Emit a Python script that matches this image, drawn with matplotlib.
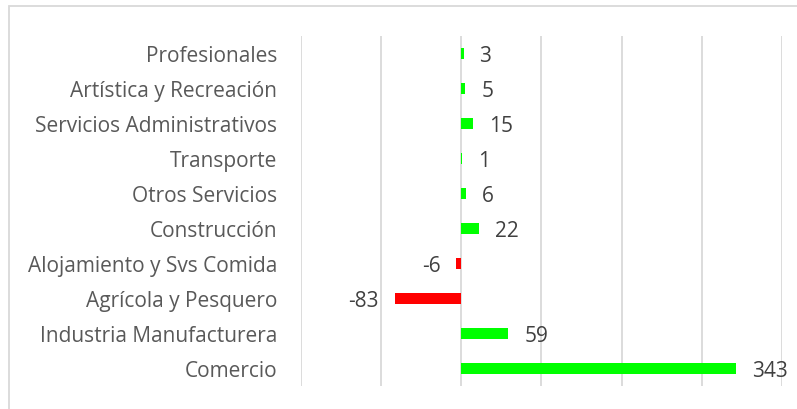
import matplotlib.pyplot as plt
from matplotlib.patches import Rectangle

# data, bottom to top as drawn
sectores = ["Comercio", "Industria Manufacturera", "Agrícola y Pesquero",
            "Alojamiento y Svs Comida", "Construcción", "Otros Servicios",
            "Transporte", "Servicios Administrativos", "Artística y Recreación",
            "Profesionales"]
valores = [343, 59, -83, -6, 22, 6, 1, 15, 5, 3]

verde = "#00FF00"
rojo = "#FF0000"
gris_txt = "#595959"
gris_num = "#404040"
gris_lin = "#D9D9D9"

plt.rcParams['font.family'] = ['Open Sans', 'DejaVu Sans']

fig = plt.figure(figsize=(7.97, 4.10), dpi=100)
ax = fig.add_axes([0.3773, 0.0568, 0.6039, 0.8537])

pos = list(range(len(sectores)))
colores = [verde if v >= 0 else rojo for v in valores]
ax.barh(pos, valores, height=0.31, color=colores, zorder=3)

for p, v in zip(pos, valores):
    if v >= 0:
        ax.annotate(str(v), (v, p), xytext=(11.5, -1.5), textcoords="offset points",
                    ha="left", va="center", fontsize=15, color=gris_num)
    else:
        ax.annotate(str(v), (v, p), xytext=(-11.5, -1.5), textcoords="offset points",
                    ha="right", va="center", fontsize=15, color=gris_num)

ax.set_xlim(-200, 400)
ax.set_ylim(-0.5, len(sectores) - 0.5)
ax.set_xticks(range(-200, 401, 100))
ax.set_xticklabels([])
ax.set_yticks(pos)
ax.set_yticklabels(sectores, fontsize=15, color=gris_txt)
ax.tick_params(axis="both", length=0)
ax.tick_params(axis="y", pad=17)
ax.grid(axis="x", color=gris_lin, linewidth=1.3, zorder=0)
for s in ax.spines.values():
    s.set_visible(False)

# chart area frame (cut off on the right and bottom)
fig.add_artist(Rectangle((8.7 / 797, -0.1), 1.2, 1.1 - 7 / 410,
                         transform=fig.transFigure, fill=False,
                         edgecolor=gris_lin, linewidth=1.3))

fig.savefig("out.png", dpi=100)
